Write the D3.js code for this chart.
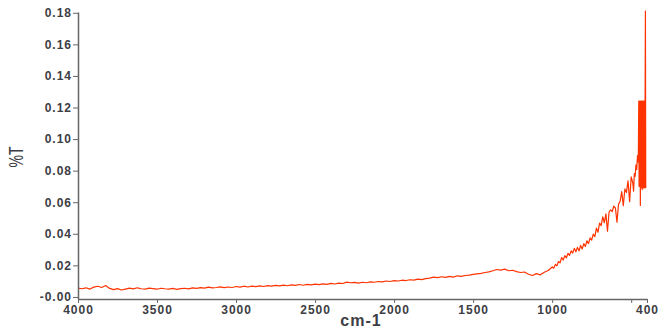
<!DOCTYPE html>
<html>
<head>
<meta charset="utf-8">
<script src="https://cdn.jsdelivr.net/npm/d3@7.9.0/dist/d3.min.js"></script>
<style>
  body { margin: 0; background: #fff; }
  svg { display: block; }
  .axis text { font-family: "Liberation Sans", Arial, sans-serif; font-size: 12px; font-weight: bold; fill: #3d3d44; letter-spacing: 1px; }
  .axis path, .axis line { stroke: #666; }
</style>
</head>
<body>
<svg id="chart" width="665" height="333"></svg>
<script>
// wavenumber (cm-1) and %T
const wavenumbers = [
  4000, 3975, 3950, 3925, 3900, 3875, 3850, 3825, 3800, 3775, 3750, 3725, 3700, 3675, 3650, 3625,
  3600, 3575, 3550, 3525, 3500, 3475, 3450, 3425, 3400, 3375, 3350, 3325, 3300, 3275, 3250, 3225,
  3200, 3175, 3150, 3125, 3100, 3075, 3050, 3025, 3000, 2975, 2950, 2925, 2900, 2875, 2850, 2825,
  2800, 2775, 2750, 2725, 2700, 2675, 2650, 2625, 2600, 2575, 2550, 2525, 2500, 2475, 2450, 2425,
  2400, 2375, 2350, 2325, 2300, 2275, 2250, 2225, 2200, 2175, 2150, 2125, 2100, 2075, 2050, 2025,
  2000, 1975, 1950, 1925, 1900, 1875, 1850, 1825, 1800, 1775, 1750, 1725, 1700, 1675, 1650, 1625,
  1600, 1575, 1550, 1525, 1500, 1475, 1450, 1425, 1400, 1375, 1350, 1325, 1300, 1275, 1250, 1225,
  1200, 1175, 1150, 1125, 1100, 1075, 1050, 1025,
  1000, 990, 980, 970, 960, 950, 940, 930, 920, 910, 900, 890, 880, 870, 860, 850,
  840, 830, 820, 810, 800, 790, 780, 770, 760, 750, 740, 730, 720, 710, 700, 690,
  680, 670, 660, 650, 640, 630, 620, 610, 600, 590, 580, 570, 560, 550, 540, 530,
  520, 510, 500, 490, 485, 480, 475, 470, 465, 460, 455,
  452, 450, 448, 446, 444, 442, 440, 438, 436, 434, 432, 430, 428, 426, 424, 422,
  420, 418, 416, 414, 412, 410, 408
];

const transmittance = [
  0.0056, 0.0052, 0.0058, 0.0050, 0.0062, 0.0068, 0.0060, 0.0072, 0.0054, 0.0046, 0.0053, 0.0044, 0.0050, 0.0056, 0.0051, 0.0058,
  0.0052, 0.0050, 0.0056, 0.0053, 0.0049, 0.0055, 0.0052, 0.0050, 0.0054, 0.0048, 0.0053, 0.0055, 0.0051, 0.0057, 0.0054, 0.0059,
  0.0056, 0.0062, 0.0057, 0.0060, 0.0064, 0.0059, 0.0063, 0.0060, 0.0066, 0.0062, 0.0068, 0.0063, 0.0069, 0.0065, 0.0070, 0.0066,
  0.0072, 0.0068, 0.0073, 0.0070, 0.0075, 0.0071, 0.0076, 0.0073, 0.0079, 0.0074, 0.0080, 0.0076, 0.0081, 0.0078, 0.0083, 0.0080,
  0.0086, 0.0082, 0.0088, 0.0085, 0.0094, 0.0090, 0.0092, 0.0088, 0.0093, 0.0090, 0.0095, 0.0093, 0.0098, 0.0095, 0.0101, 0.0098,
  0.0103, 0.0101, 0.0106, 0.0104, 0.0109, 0.0107, 0.0113, 0.0110, 0.0116, 0.0119, 0.0126, 0.0122, 0.0128, 0.0124, 0.0130, 0.0126,
  0.0134, 0.0130, 0.0136, 0.0138, 0.0143, 0.0146, 0.0149, 0.0155, 0.0159, 0.0166, 0.0174, 0.0170, 0.0176, 0.0166, 0.0169, 0.0160,
  0.0155, 0.0158, 0.0144, 0.0136, 0.0148, 0.0140, 0.0156, 0.0168,
  0.0190, 0.0182, 0.0206, 0.0198, 0.0224, 0.0216, 0.0250, 0.0234, 0.0262, 0.0248, 0.0276, 0.0264, 0.0292, 0.0278, 0.0308, 0.0286,
  0.0314, 0.0292, 0.0326, 0.0304, 0.0338, 0.0320, 0.0356, 0.0338, 0.0374, 0.0360, 0.0398, 0.0382, 0.0436, 0.0410, 0.0468, 0.0452,
  0.0508, 0.0470, 0.0526, 0.0416, 0.0538, 0.0552, 0.0540, 0.0576, 0.0564, 0.0474, 0.0588, 0.0606, 0.0668, 0.0578, 0.0684, 0.0662,
  0.0736, 0.0604, 0.0760, 0.0724, 0.0670, 0.0782, 0.0764, 0.0836, 0.0808, 0.0896, 0.0854,
  0.1240, 0.0700, 0.1240, 0.0720, 0.1240, 0.0580, 0.1240, 0.0700, 0.1240, 0.0690, 0.1240, 0.0680, 0.1240, 0.0700, 0.1240, 0.0690,
  0.1240, 0.0700, 0.1240, 0.0690, 0.1240, 0.1810, 0.0690
];

const xTicks = [4000, 3500, 3000, 2500, 2000, 1500, 1000, 500, 400];
const xTickLabels = ["4000", "3500", "3000", "2500", "2000", "1500", "1000", "", "400"];
const yTicks = [0, 0.02, 0.04, 0.06, 0.08, 0.10, 0.12, 0.14, 0.16, 0.18];
const yTickLabels = ["-0.00", "0.02", "0.04", "0.06", "0.08", "0.10", "0.12", "0.14", "0.16", "0.18"];

const svg = d3.select("#chart");

const x = d3.scaleLinear().domain([4000, 400]).range([78, 647]);
const y = d3.scaleLinear().domain([-0.0013, 0.1805]).range([299, 12]);

const data = wavenumbers.map((w, i) => ({ w, t: transmittance[i] }));

const line = d3.line()
  .x((d) => x(d.w))
  .y((d) => y(d.t));

svg.append("path")
  .datum(data)
  .attr("d", line)
  .attr("fill", "none")
  .attr("stroke", "#ff3300")
  .attr("stroke-width", 1.2)
  .attr("stroke-linejoin", "round");

// x axis
const xAxis = svg.append("g")
  .attr("class", "axis")
  .attr("transform", "translate(0,299)")
  .call(
    d3.axisBottom(x)
      .tickValues(xTicks)
      .tickFormat((d, i) => xTickLabels[i])
      .tickSize(4)
      .tickSizeOuter(0)
  );
xAxis.select(".domain").attr("stroke-width", 1.5);
xAxis.selectAll(".tick text").attr("dy", "0.85em").attr("y", 5);

// y axis
const yAxis = svg.append("g")
  .attr("class", "axis")
  .attr("transform", "translate(78,0)")
  .call(
    d3.axisLeft(y)
      .tickValues(yTicks)
      .tickFormat((d, i) => yTickLabels[i])
      .tickSize(5)
      .tickSizeOuter(0)
  );
yAxis.select(".domain").attr("stroke-width", 1.5);
yAxis.selectAll(".tick text").attr("x", -6);

// axis titles
svg.append("text")
  .attr("x", 361)
  .attr("y", 326)
  .attr("text-anchor", "middle")
  .attr("font-family", "Liberation Sans, Arial, sans-serif")
  .attr("font-size", 16)
  .attr("font-weight", "bold")
  .attr("letter-spacing", "1px")
  .attr("fill", "#3d3d44")
  .text("cm-1");

svg.append("text")
  .attr("transform", "translate(23,157) rotate(-90) scale(1,1.45)")
  .attr("text-anchor", "middle")
  .attr("font-family", "Liberation Sans, Arial, sans-serif")
  .attr("font-size", 14)
  .attr("fill", "#3d3d44")
  .text("%T");
</script>
</body>
</html>
